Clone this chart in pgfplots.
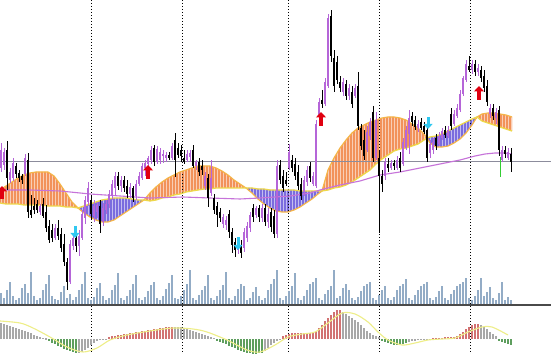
\documentclass[border=0pt]{standalone}
\usepackage{pgfplots}
\pgfplotsset{compat=1.18}
\usepackage{pgfplotstable}
\usepgfplotslibrary{fillbetween}
\usetikzlibrary{patterns.meta,arrows.meta}
\definecolor{bull}{HTML}{B565D8}
\definecolor{maline}{HTML}{C673D9}
\definecolor{cloudO}{HTML}{F2925A}
\definecolor{cloudB}{HTML}{7A6CDE}
\definecolor{edgeA}{HTML}{F5B548}
\definecolor{edgeB}{HTML}{EED84A}
\definecolor{vol}{HTML}{93ACC6}
\definecolor{hgray}{HTML}{A8A8A8}
\definecolor{hgreen}{HTML}{5E9E5E}
\definecolor{hred}{HTML}{D27272}
\definecolor{sig}{HTML}{EEEE88}
\definecolor{arrR}{HTML}{E00010}
\definecolor{arrC}{HTML}{30C8F0}
\definecolor{sep}{HTML}{4A4A4A}
\definecolor{pline}{HTML}{8C8C9C}

\pgfplotstableread{
x o h l c
1 168 143 172 150
4 165 148 170 152
7 150 141 190 178
10 180 168 183 172
13 178 158 181 163
16 166 163 178 174
19 173 170 182 178
22 176 174 184 180
25 174 154 176 158
28 160 153 218 212
31 210 195 218 215
34 206 198 214 210
37 204 200 213 210
40 212 204 215 206
43 204 198 218 216
46 212 205 232 228
49 226 220 243 240
52 230 224 242 238
55 238 224 240 228
58 228 220 240 236
61 234 228 252 248
64 244 234 266 262
67 262 258 290 282
70 282 240 284 244
73 246 234 250 238
76 238 234 252 246
79 246 230 256 236
82 238 210 240 214
85 218 196 224 200
88 202 182 206 188
91 200 196 220 214
94 216 200 222 206
97 212 202 218 205
100 206 200 233 224
103 222 203 226 208
106 210 200 214 204
109 204 190 208 194
112 196 180 200 184
115 188 172 196 176
118 176 172 190 186
121 186 176 192 180
124 180 176 192 188
127 186 180 198 194
130 194 183 198 187
133 188 186 202 198
136 196 180 200 184
139 184 172 186 176
142 178 163 180 166
145 168 160 176 163
148 164 156 168 158
151 160 146 164 150
154 148 145 166 162
157 162 146 164 149
160 160 148 164 152
163 156 150 163 154
166 158 152 162 155
169 155 152 160 158
172 158 143 160 146
175 140 133 177 160
178 148 143 158 155
181 150 145 162 156
184 158 150 164 162
187 160 150 162 154
190 157 150 162 153
193 150 145 168 166
196 166 160 170 162
199 162 158 176 172
202 166 160 175 170
205 186 172 190 176
208 178 174 207 198
211 193 160 196 178
214 198 194 214 210
217 206 202 227 215
220 212 208 222 218
223 224 214 228 217
226 225 216 230 220
229 214 210 238 232
232 232 228 253 245
235 242 238 257 250
238 250 242 254 244
241 245 240 258 253
244 248 228 252 232
247 238 222 242 226
250 228 212 232 215
253 208 204 222 217
256 215 206 218 208
259 208 205 222 217
262 218 204 222 208
265 208 204 226 222
268 222 208 228 214
271 212 208 232 227
274 216 210 238 234
277 234 160 238 166
280 165 160 184 180
283 176 170 192 188
286 180 172 186 184
289 168 144 170 152
292 160 155 172 168
295 164 158 180 176
298 172 165 190 186
301 184 178 200 196
304 192 176 196 180
307 182 166 186 170
310 166 162 182 178
313 184 172 186 176
316 186 120 188 124
319 116 98 120 102
322 100 90 108 104
325 104 78 106 82
328 86 14 88 18
331 16 10 62 56
334 58 50 92 86
337 62 56 84 80
340 82 76 92 88
343 92 78 96 82
346 84 80 100 96
349 96 84 100 88
352 92 86 108 104
355 96 84 98 88
358 86 72 130 126
361 128 124 150 146
364 140 130 160 156
367 150 126 152 132
370 136 118 140 122
373 112 106 162 158
376 158 112 160 120
379 158 150 233 176
382 176 170 192 184
385 176 158 180 162
388 164 158 172 168
391 168 160 170 163
394 163 160 170 166
397 168 156 170 160
400 158 152 172 168
403 164 138 166 142
406 148 126 150 130
409 134 110 154 118
412 116 112 126 122
415 120 116 130 127
418 128 120 132 124
421 122 118 130 128
424 126 122 134 132
427 130 126 162 158
430 153 140 158 144
433 150 138 154 142
436 138 134 150 146
439 144 132 146 136
442 138 128 140 131
445 130 126 138 135
448 136 126 138 130
451 114 108 130 126
454 124 110 126 114
457 116 104 118 108
460 110 90 112 94
463 94 76 96 78
466 80 60 82 64
469 66 56 72 70
472 70 60 74 64
475 64 60 76 72
478 72 64 76 68
481 70 66 82 78
484 76 70 92 88
487 86 80 106 102
490 114 104 118 108
493 108 104 120 116
496 118 108 124 112
499 110 106 156 150
502 160 146 162 150
505 150 146 158 154
508 158 148 160 152
511 154 148 172 162
}\candles

\pgfplotstableread{
x A B
0 190 203
6 186 204
12 182 204
18 178 204
24 175 205
30 173 205
36 172 205
42 172 205
48 172 206
54 176 206
60 184 206
66 193 207
72 202 207
78 208 208
84 213 206
90 217 204
96 220 202
102 222 200
108 222 199
114 220 198
120 216 198
126 212 198
132 208 199
138 204 200
144 200 200
150 193 201
156 187 200
162 182 198
168 178 197
174 175 195
180 172 194
186 170 192
192 168 191
198 166 190
204 166 189
210 166 189
216 168 188
222 171 188
228 175 188
234 180 188
240 184 188
246 188 188
252 193 188
258 199 189
264 204 189
270 208 190
276 211 190
282 212 190
288 212 190
294 210 190
300 207 191
306 203 191
312 199 191
318 194 191
322 191 191
328 170 190
334 158 188
340 148 187
346 140 185
352 133 182
358 128 178
364 125 174
370 122 170
376 120 164
382 118 159
388 117 155
394 117 151
400 118 149
406 120 148
412 124 146
418 128 144
424 134 140
427 138 138
430 143 137
436 147 136
442 147 134
448 146 131
454 143 128
460 139 125
466 133 122
472 125 119
477 117 117
482 114 121
488 113 123
494 113 125
500 114 127
506 115 129
512 117 131
}\cloud

\pgfplotstableread{
x v
1 293
4 298
7 290
10 282
13 296
16 300
19 298
22 288
25 284
28 293
31 272
34 296
37 300
40 298
43 290
46 284
49 275
52 296
55 299
58 300
61 292
64 286
67 298
70 294
73 300
76 297
79 290
82 284
85 272
88 298
91 300
94 297
97 288
100 283
103 296
106 300
109 298
112 290
115 285
118 273
121 298
124 300
127 296
130 290
133 284
136 275
139 298
142 300
145 297
148 291
151 285
154 282
157 298
160 300
163 296
166 289
169 283
172 275
175 298
178 299
181 296
184 290
187 284
190 270
193 298
196 300
199 295
202 290
205 286
208 275
211 298
214 300
217 296
220 290
223 285
226 272
229 298
232 300
235 296
238 289
241 284
244 286
247 300
250 298
253 292
256 287
259 296
262 300
265 298
268 290
271 284
274 279
277 270
280 298
283 300
286 296
289 291
292 286
295 273
298 298
301 300
304 296
307 290
310 284
313 282
316 278
319 298
322 300
325 294
328 290
331 286
334 270
337 298
340 296
343 288
346 284
349 290
352 298
355 300
358 297
361 291
364 286
367 284
370 282
373 298
376 300
379 295
382 290
385 286
388 298
391 300
394 297
397 290
400 286
403 284
406 279
409 298
412 300
415 295
418 290
421 286
424 284
427 282
430 298
433 300
436 297
439 291
442 286
445 298
448 300
451 294
454 290
457 286
460 284
463 282
466 278
469 298
472 300
475 296
478 290
481 278
484 296
487 292
490 287
493 298
496 300
499 293
502 282
505 300
508 297
511 300
}\volume

\pgfplotstableread{
x o k
1 323 0
4 324 0
7 325 0
10 326 0
13 327 0
16 328 0
19 329 0
22 330 0
25 331 0
28 332 0
31 333 0
34 335 0
37 336 0
40 337 0
43 338 0
46 338.5 0
49 341 1
52 343 1
55 344 1
58 346 1
61 347 1
64 349 1
67 350 1
70 351 1
73 352 1
76 353 1
79 353 0
82 352 0
85 350 0
88 348 0
91 345 0
94 343 0
97 341 0
100 340 0
103 340 0
106 339.5 0
109 337 2
112 336.5 2
115 336 2
118 335.5 2
121 335 2
124 334.5 2
127 334 2
130 333.5 2
133 333 2
136 332.5 2
139 332 2
142 331.5 2
145 331 2
148 330.5 2
151 330 2
154 329.5 2
157 329 2
160 328.5 2
163 328 2
166 327.5 2
169 327 2
172 327 2
175 327 0
178 327 0
181 327.5 0
184 328 0
187 329 0
190 330 0
193 331 0
196 332 0
199 333 0
202 334 0
205 335 0
208 336 0
211 337 0
214 338 0
217 341 1
220 342 1
223 343 1
226 344.5 1
229 346 1
232 347 1
235 348.5 1
238 350 1
241 351 1
244 352 1
247 353 1
250 353.5 1
253 354 1
256 354 1
259 353.5 1
262 353 1
265 351 0
268 348 0
271 345 0
274 343 0
277 341 0
280 340 0
283 336 2
286 335 2
289 334 2
292 333 2
295 333 2
298 333 2
301 333 2
304 333 2
307 333 2
310 333 2
313 332 2
316 331 2
319 328 2
322 325 2
325 321 2
328 318 2
331 315 2
334 312 2
337 310 2
340 310 2
343 312 0
346 314 0
349 316 0
352 318 0
355 320 0
358 322 0
361 325 0
364 328 0
367 331 0
370 333 0
373 335 0
376 336 0
379 337.5 0
382 341 1
385 342 1
388 343 1
391 344 1
394 345 1
397 345 1
400 345 1
403 344 1
406 343 1
409 342 0
412 341 0
415 340.5 0
418 340 0
421 340 0
424 339.5 0
427 339.5 0
430 339.5 0
433 338.5 2
436 338.5 2
439 338 2
442 338 2
445 337.5 2
448 337.5 2
451 337 2
454 337 2
457 336 2
460 334 2
463 332 2
466 329 2
469 327 2
472 325 2
475 324 2
478 324 2
481 325 0
484 327 0
487 329 0
490 332 0
493 334 0
496 336 0
499 341 1
502 342 1
505 343 1
508 344 1
511 345 1
}\osc

\begin{document}
\begin{tikzpicture}
\begin{axis}[
  width=551bp, height=354bp, scale only axis,
  xmin=0, xmax=551, ymin=0, ymax=354, y dir=reverse,
  axis lines=none, ticks=none, clip=true,
  axis background/.style={fill=white},
  ebar/.style={draw=none, mark=none, forget plot, error bars/y dir=both, error bars/y explicit, error bars/error mark=none},
]
% day separators
\addplot[black, line width=0.8bp, dash pattern=on 1bp off 2bp] coordinates {(91.5,0) (91.5,354)};
\addplot[black, line width=0.8bp, dash pattern=on 1bp off 2bp] coordinates {(182.5,0) (182.5,354)};
\addplot[black, line width=0.8bp, dash pattern=on 1bp off 2bp] coordinates {(288.5,0) (288.5,354)};
\addplot[black, line width=0.8bp, dash pattern=on 1bp off 2bp] coordinates {(379.5,0) (379.5,354)};
\addplot[black, line width=0.8bp, dash pattern=on 1bp off 2bp] coordinates {(470.5,0) (470.5,354)};

% cloud
\addplot[draw=none, name path=A] table[x=x, y=A] \cloud;
\addplot[draw=none, name path=B] table[x=x, y=B] \cloud;
\pgfplotsset{ocl/.style={fill=cloudO!45!white, postaction={pattern={Lines[angle=90,distance=3bp,line width=1.9bp]}, pattern color=cloudO}},
  bcl/.style={fill=cloudB!45!white, postaction={pattern={Lines[angle=90,distance=3bp,line width=1.9bp]}, pattern color=cloudB}}}
\addplot[ocl] fill between[of=A and B, soft clip={domain=0:78}];
\addplot[bcl] fill between[of=A and B, soft clip={domain=78:144}];
\addplot[ocl] fill between[of=A and B, soft clip={domain=144:246}];
\addplot[bcl] fill between[of=A and B, soft clip={domain=246:322}];
\addplot[ocl] fill between[of=A and B, soft clip={domain=322:427}];
\addplot[bcl] fill between[of=A and B, soft clip={domain=427:477}];
\addplot[ocl] fill between[of=A and B, soft clip={domain=477:512}];
\addplot[edgeA, line width=1.2bp] table[x=x, y=A] \cloud;
\addplot[edgeB, line width=1.3bp] table[x=x, y=B] \cloud;

% price line
\addplot[pline, line width=0.8bp] coordinates {(0,161) (551,161)};

% moving average
\addplot[maline, line width=1.1bp] coordinates {
(0,190) (30,190) (60,191) (90,194) (120,196) (150,198) (183,197) (210,198)
(240,199) (260,198) (290,196) (310,193) (320,190) (340,185) (360,181)
(380,175) (400,172) (420,168) (440,164) (460,160) (475,156) (485,154)
(495,153) (505,153) (512,154)};

% volume
\addplot[ebar, error bars/error bar style={draw=vol, line width=1.3bp}]
  table[x=x, y expr={(\thisrow{v}+304)/2}, y error expr={(304-\thisrow{v})/2}] \volume;

% separator
\addplot[sep, line width=2bp] coordinates {(0,305.5) (551,305.5)};

% candles: wicks and bodies
\addplot[ebar, restrict expr to domain={\thisrow{o}-\thisrow{c}}{-1000:0},
  error bars/error bar style={draw=black, line width=0.9bp}]
  table[x=x, y expr={(\thisrow{h}+\thisrow{l})/2}, y error expr={(\thisrow{l}-\thisrow{h})/2}] \candles;
\addplot[ebar, restrict expr to domain={\thisrow{o}-\thisrow{c}}{-1000:0},
  error bars/error bar style={draw=black, line width=2.2bp}]
  table[x=x, y expr={(\thisrow{o}+\thisrow{c})/2}, y error expr={max(abs(\thisrow{o}-\thisrow{c})/2,0.6)}] \candles;
\addplot[ebar, restrict expr to domain={\thisrow{o}-\thisrow{c}}{0.01:1000},
  error bars/error bar style={draw=bull, line width=0.9bp}]
  table[x=x, y expr={(\thisrow{h}+\thisrow{l})/2}, y error expr={(\thisrow{l}-\thisrow{h})/2}] \candles;
\addplot[ebar, restrict expr to domain={\thisrow{o}-\thisrow{c}}{0.01:1000},
  error bars/error bar style={draw=bull, line width=2.2bp}]
  table[x=x, y expr={(\thisrow{o}+\thisrow{c})/2}, y error expr={max(abs(\thisrow{o}-\thisrow{c})/2,0.6)}] \candles;
\addplot[green!60!gray, line width=0.9bp] coordinates {(500,157) (500,177)};

% signal arrows
\addplot[arrR, line width=3.2bp, -{Triangle[width=10bp,length=5.5bp]}, quiver={u=0, v=\thisrow{v}}]
  table {
x y v
2 199 -13
148 179 -14
321 126 -14
479 100 -14
};
\addplot[arrC, line width=3bp, -{Triangle[width=9bp,length=5bp]}, quiver={u=0, v=\thisrow{v}}]
  table {
x y v
75 226 12
238 237 13
428 117 12
};

% oscillator histogram
\addplot[ebar, restrict expr to domain={\thisrow{k}}{-0.5:0.5},
  error bars/error bar style={draw=hgray, line width=1.6bp}]
  table[x=x, y expr={(\thisrow{o}+339)/2}, y error expr={abs(\thisrow{o}-339)/2}] \osc;
\addplot[ebar, restrict expr to domain={\thisrow{k}}{0.5:1.5},
  error bars/error bar style={draw=hgreen, line width=1.6bp}]
  table[x=x, y expr={(\thisrow{o}+339)/2}, y error expr={abs(\thisrow{o}-339)/2}] \osc;
\addplot[ebar, restrict expr to domain={\thisrow{k}}{1.5:2.5},
  error bars/error bar style={draw=hred, line width=1.6bp}]
  table[x=x, y expr={(\thisrow{o}+339)/2}, y error expr={abs(\thisrow{o}-339)/2}] \osc;

% signal line
\addplot[sig, line width=1.1bp, smooth] coordinates {
(0,321) (20,323) (33,328) (50,337) (67,347) (83,352) (97,348) (110,340)
(127,335) (150,331) (173,328) (193,329) (207,332) (227,340) (247,350)
(260,352) (275,345) (288,337) (302,334) (315,332) (328,323) (342,313)
(355,314) (368,322) (378,332) (388,340) (402,345) (415,343) (428,340)
(442,339) (455,338) (468,332) (482,327) (492,327) (508,335)};
\end{axis}
\end{tikzpicture}
\end{document}
